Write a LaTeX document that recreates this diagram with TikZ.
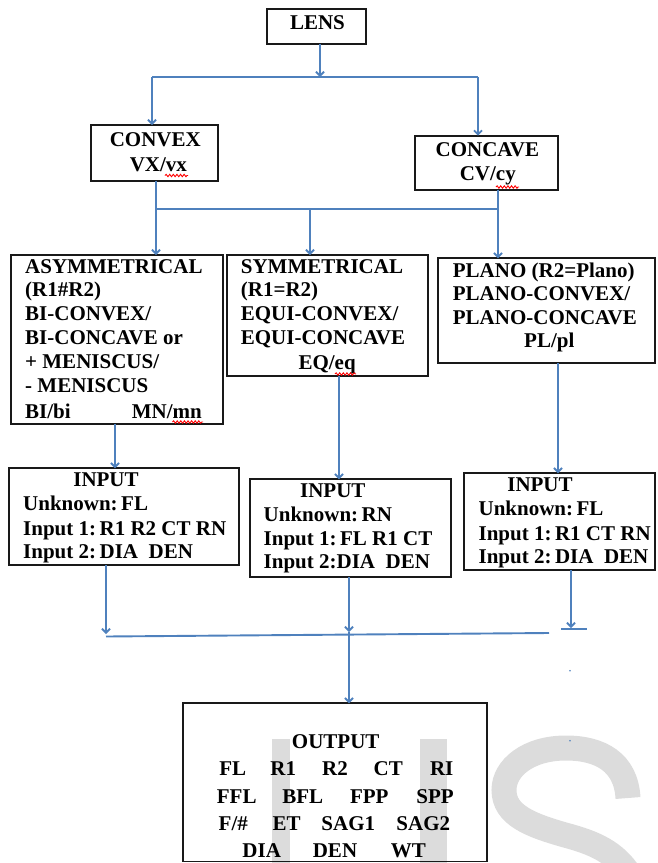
\documentclass[tikz,border=0pt]{standalone}
\usepackage{fontspec}
\setmainfont{Liberation Serif}[BoldFont={Liberation Serif Bold}]
\usetikzlibrary{arrows.meta,decorations.pathmorphing}
\definecolor{lineblue}{HTML}{4F81BD}
\definecolor{wmgray}{HTML}{DCDCDC}
\tikzset{
  box/.style={draw=black!90, line width=1.9pt, inner sep=0pt, outer sep=0pt},
  tx/.style={font=\fontsize{21}{24}\selectfont\bfseries, inner sep=0pt, anchor=base west},
  tc/.style={tx, anchor=base},
  link/.style={draw=lineblue, line width=1.9pt},
  arr/.style={link, -{Straight Barb[length=4pt,width=8pt]}},
  spell/.style={draw=red, line width=0.9pt, decorate, decoration={snake, amplitude=1.2pt, segment length=3.6pt}},
}
\begin{document}
\begin{tikzpicture}[x=1pt,y=-1pt]
\useasboundingbox (0,0) rectangle (658,863);
% watermark
\begin{scope}
  \clip (0,0) rectangle (658,863);
  \fill[wmgray] (271.7,739.3) rectangle (290,870);
  \fill[wmgray] (420,739.3) rectangle (447.3,870);
  \draw[wmgray, line width=25pt] (628,798) .. controls (626,762) and (600,748) .. (566,748)
     .. controls (528,748) and (504,768) .. (504,790)
     .. controls (504,815) and (530,825) .. (565,835)
     .. controls (595,843) and (615,852) .. (630,875);
\end{scope}
\fill[lineblue] (570,670.7) circle (0.8pt);
\fill[lineblue] (570,740.7) circle (0.8pt);

% boxes
\node[box, minimum width=98.6pt, minimum height=34.7pt] (lens) at (316.6,26.35) {};
\node[box, minimum width=127.1pt, minimum height=55.7pt] (convex) at (154.65,152.85) {};
\node[box, minimum width=142.7pt, minimum height=54.3pt] (concave) at (486.75,162.85) {};
\node[box, minimum width=212.3pt, minimum height=169.3pt] (asym) at (117.15,339.65) {};
\node[box, minimum width=201.6pt, minimum height=121pt] (sym) at (327.5,315.5) {};
\node[box, minimum width=216.7pt, minimum height=105pt] (plano) at (546.65,310.8) {};
\node[box, minimum width=230pt, minimum height=96.7pt] (in1) at (124.2,516.65) {};
\node[box, minimum width=201.4pt, minimum height=98pt] (in2) at (350.4,528.3) {};
\node[box, minimum width=191.3pt, minimum height=96.7pt] (in3) at (559.35,521.65) {};
\node[box, minimum width=303.4pt, minimum height=158.2pt] (out) at (335,782.4) {};

% texts
\node[tc] (tlens) at (317.5,29.8) {LENS};
\node[tc] (tcx1) at (155.3,146.3) {CONVEX};
\node[tc] (tcx2) at (158.4,171) {VX/vx};
\node[tc] (tcv1) at (487.4,156.3) {CONCAVE};
\node[tc] (tcv2) at (487.8,180.3) {CV/cy};

\node[tx] (ta1) at (25,273) {ASYMMETRICAL};
\node[tx] (ta2) at (25,296.3) {(R1\#R2)};
\node[tx] (ta3) at (25,320.3) {BI-CONVEX/};
\node[tx] (ta4) at (25,344.3) {BI-CONCAVE or};
\node[tx] (ta5) at (25,368.7) {+ MENISCUS/};
\node[tx] (ta6) at (25,392) {- MENISCUS};
\node[tx] (ta7) at (25,418.7) {BI/bi};
\node[tx] (ta8) at (131.7,418.7) {MN/mn};

\node[tx] (ts1) at (240.7,273) {SYMMETRICAL};
\node[tx] (ts2) at (240.7,296.3) {(R1=R2)};
\node[tx] (ts3) at (240.7,320.3) {EQUI-CONVEX/};
\node[tx] (ts4) at (240.7,344.3) {EQUI-CONCAVE};
\node[tx] (ts5) at (298.3,369) {EQ/eq};

\node[tx] (tp1) at (452.7,277.7) {PLANO (R2=Plano)};
\node[tx] (tp2) at (452.7,300.3) {PLANO-CONVEX/};
\node[tx] (tp3) at (452.7,324.7) {PLANO-CONCAVE};
\node[tx] (tp4) at (524,347.7) {PL/pl};

\node[tc] (ti11) at (106,486.3) {INPUT};
\node[tx] (ti12) at (23,510.3) {Unknown:\,FL};
\node[tx] (ti13) at (23,535.3) {Input 1:\,R1 R2 CT RN};
\node[tx] (ti14) at (23,558.7) {Input 2:\,DIA\ \ DEN};

\node[tc] (ti21) at (332.8,497) {INPUT};
\node[tx] (ti22) at (263.5,521) {Unknown:\,RN};
\node[tx] (ti23) at (263.5,545.7) {Input 1:\,FL R1 CT};
\node[tx] (ti24) at (263.5,568.7) {Input 2:DIA\ \ DEN};

\node[tc] (ti31) at (540,491) {INPUT};
\node[tx] (ti32) at (478.4,515.3) {Unknown:\,FL};
\node[tx] (ti33) at (478.4,540.3) {Input 1:\,R1 CT RN};
\node[tx] (ti34) at (478.4,563.7) {Input 2:\,DIA\ \ DEN};

\node[tc] (to0) at (335.7,748.7) {OUTPUT};
\node[tc] (to11) at (232.7,775.3) {FL};
\node[tc] (to12) at (283.3,775.3) {R1};
\node[tc] (to13) at (335,775.3) {R2};
\node[tc] (to14) at (388.3,775.3) {CT};
\node[tc] (to15) at (441.7,775.3) {RI};
\node[tc] (to21) at (236.7,803) {FFL};
\node[tc] (to22) at (302.7,803) {BFL};
\node[tc] (to23) at (369.3,803) {FPP};
\node[tc] (to24) at (435,803) {SPP};
\node[tc] (to31) at (233.3,830.3) {F/\#};
\node[tc] (to32) at (286.7,830.3) {ET};
\node[tc] (to33) at (348.3,830.3) {SAG1};
\node[tc] (to34) at (423.3,830.3) {SAG2};
\node[tc] (to41) at (261.7,857) {DIA};
\node[tc] (to42) at (335,857) {DEN};
\node[tc] (to43) at (408.3,857) {WT};

% spelling marks
\draw[spell] (165,175.5) -- (188,175.5);
\draw[spell] (496,187) -- (519,187);
\draw[spell] (335,374) -- (356,374);
\draw[spell] (172.5,422) -- (203,422);

% connectors level 1
\coordinate (j0) at (320,77);
\coordinate (hl) at (152,77);
\coordinate (hr) at (478,77);
\draw[link] (hl) -- (hr);
\draw[arr] (lens.south -| j0) -- (j0);
\draw[arr] (hl) -- (hl |- convex.north);
\draw[arr] (hr) -- (hr |- concave.north);

% connectors level 2
\coordinate (ml) at (156,209);
\coordinate (mm) at (310,209);
\coordinate (mr) at (498,209);
\draw[link] (ml |- convex.south) -- (ml) -- (mr) -- (mr |- concave.south);
\draw[arr] (ml) -- (ml |- asym.north);
\draw[arr] (mm) -- (mm |- sym.north);
\draw[arr] (mr) -- (mr |- plano.north);

% connectors level 3
\coordinate (xa) at (115,0);
\coordinate (xs) at (339,0);
\coordinate (xp) at (558,0);
\draw[arr] (xa |- asym.south) -- (xa |- in1.north);
\draw[arr] (xs |- sym.south) -- (xs |- in2.north);
\draw[arr] (xp |- plano.south) -- (xp |- in3.north);

% connectors level 4
\coordinate (b1) at (106,634);
\coordinate (b2) at (349,632);
\coordinate (b3) at (571,628);
\coordinate (hb1) at (106,636.5);
\coordinate (hb2) at (549,633);
\coordinate (tk1) at (561,629);
\coordinate (tk2) at (587,629);
\draw[link] (hb1) -- (hb2);
\draw[link] (tk1) -- (tk2);
\draw[arr] (b1 |- in1.south) -- (b1);
\draw[arr] (b2 |- in2.south) -- (b2);
\draw[arr] (b3 |- in3.south) -- (b3);
\draw[arr] (b2) -- (b2 |- out.north);
\end{tikzpicture}
\end{document}
